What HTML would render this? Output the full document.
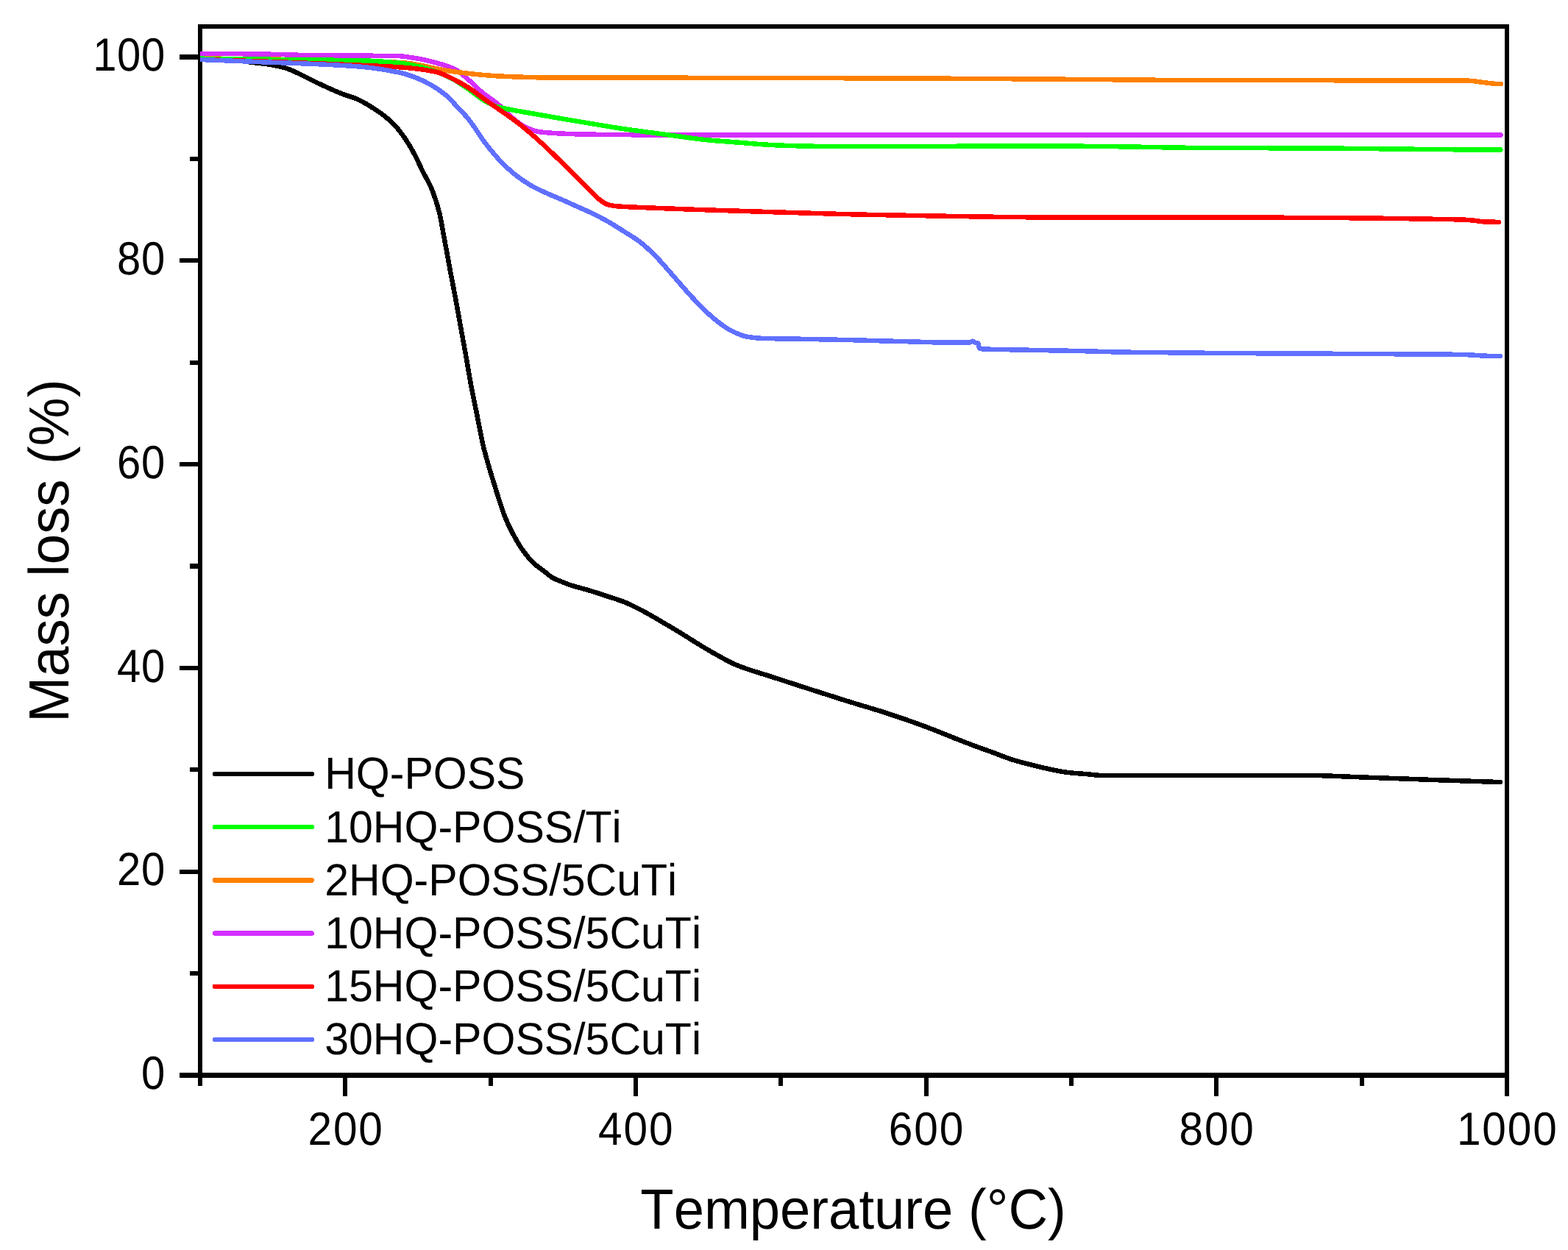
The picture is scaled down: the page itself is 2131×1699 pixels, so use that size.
<!DOCTYPE html>
<html lang="en"><head><meta charset="utf-8"><title>TGA mass loss curves</title>
<style>
html,body{margin:0;padding:0;background:#ffffff;overflow:hidden}
svg{display:block}
svg text{font-family:"Liberation Sans",Arial,Helvetica,sans-serif;fill:#000;font-kerning:none;text-rendering:geometricPrecision}
.tick{font-size:60px}
.title{font-size:75px}
.curve{fill:none;stroke-linejoin:round;stroke-linecap:round}
</style></head>
<body>
<svg xmlns="http://www.w3.org/2000/svg" width="2131" height="1699" viewBox="0 0 2131 1699">
<rect x="0" y="0" width="2131" height="1699" fill="#ffffff"/>
<defs><clipPath id="plotclip"><rect x="272.0" y="36.0" width="1776.0" height="1425.5"/></clipPath></defs>
<g id="axes" stroke="#000" fill="none" shape-rendering="crispEdges">
<rect x="272.0" y="36.0" width="1776.0" height="1425.5" stroke-width="6.3"/>
<path d="M272.0 1461.5 V1475.8 M469.3 1461.5 V1489.5 M666.7 1461.5 V1475.8 M864.0 1461.5 V1489.5 M1061.3 1461.5 V1475.8 M1258.7 1461.5 V1489.5 M1456.0 1461.5 V1475.8 M1653.3 1461.5 V1489.5 M1850.7 1461.5 V1475.8 M2048.0 1461.5 V1489.5 M272.0 1461.5 H244.0 M272.0 1323.1 H257.7 M272.0 1184.7 H244.0 M272.0 1046.3 H257.7 M272.0 907.9 H244.0 M272.0 769.5 H257.7 M272.0 631.1 H244.0 M272.0 492.7 H257.7 M272.0 354.3 H244.0 M272.0 215.9 H257.7 M272.0 77.5 H244.0" stroke-width="6.3"/>
</g>
<g id="curves" clip-path="url(#plotclip)" shape-rendering="crispEdges">
<path class="curve" d="M272.00 78.60 C284.67 78.64 297.33 79.56 310.00 80.50 C320.00 81.24 330.00 83.24 340.00 84.50 C348.33 85.55 356.67 86.21 365.00 87.50 C372.67 88.69 380.33 90.28 388.00 92.50 C395.33 94.63 402.67 98.60 410.00 102.00 C416.33 104.94 422.67 108.45 429.00 111.50 C435.33 114.55 441.67 117.48 448.00 120.30 C454.00 122.97 460.00 125.72 466.00 128.00 C472.33 130.41 478.67 131.82 485.00 134.50 C491.33 137.18 497.67 141.13 504.00 145.00 C510.33 148.87 516.67 152.97 523.00 158.00 C528.00 161.97 533.00 166.53 538.00 172.00 C542.33 176.74 546.67 182.61 551.00 189.00 C555.33 195.39 559.67 202.87 564.00 211.00 C567.67 217.88 571.33 226.71 575.00 234.00 C578.33 240.63 581.67 245.56 585.00 253.00 C587.33 258.21 589.67 264.44 592.00 271.50 C593.77 276.85 595.53 282.72 597.30 290.00 C598.00 292.88 598.70 296.43 599.40 300.00 C600.60 306.11 601.80 313.51 603.00 320.00 C604.27 326.85 605.53 333.15 606.80 340.00 C608.00 346.49 609.20 353.51 610.40 360.00 C611.67 366.85 612.93 373.33 614.20 380.00 C616.10 390.00 618.00 399.73 619.90 410.00 C621.70 419.73 623.50 430.00 625.30 440.00 C626.20 445.00 627.10 450.03 628.00 455.00 C629.60 463.83 631.20 472.35 632.80 481.30 C635.20 494.73 637.60 509.79 640.00 522.60 C642.77 537.37 645.53 550.08 648.30 563.90 C651.03 577.55 653.77 593.29 656.50 605.00 C657.80 610.57 659.10 615.23 660.40 620.00 C662.37 627.22 664.33 633.99 666.30 640.60 C668.43 647.77 670.57 654.42 672.70 661.30 C674.83 668.18 676.97 675.41 679.10 681.90 C681.50 689.20 683.90 696.66 686.30 702.60 C689.50 710.52 692.70 717.03 695.90 723.20 C699.87 730.85 703.83 738.08 707.80 743.90 C713.30 751.97 718.80 759.20 724.30 764.50 C730.50 770.48 736.70 774.04 742.90 779.00 C745.27 780.89 747.63 783.40 750.00 784.80 C754.53 787.48 759.07 788.94 763.60 790.80 C767.40 792.36 771.20 793.93 775.00 795.20 C783.33 797.98 791.67 799.79 800.00 802.30 C808.33 804.81 816.67 807.54 825.00 810.30 C833.33 813.06 841.67 815.54 850.00 818.90 C858.33 822.26 866.67 826.70 875.00 831.10 C883.33 835.50 891.67 840.63 900.00 845.50 C908.33 850.37 916.67 855.22 925.00 860.30 C933.33 865.38 941.67 870.96 950.00 876.00 C958.33 881.04 966.67 886.02 975.00 890.60 C983.33 895.18 991.67 900.13 1000.00 903.60 C1016.67 910.55 1033.33 914.82 1050.00 920.30 C1066.67 925.78 1083.33 931.13 1100.00 936.50 C1116.67 941.87 1133.33 947.30 1150.00 952.50 C1166.67 957.70 1183.33 962.38 1200.00 967.70 C1208.33 970.36 1216.67 973.15 1225.00 976.00 C1233.33 978.85 1241.67 981.75 1250.00 984.80 C1258.33 987.85 1266.67 991.04 1275.00 994.30 C1283.33 997.56 1291.67 1001.12 1300.00 1004.40 C1308.33 1007.68 1316.67 1010.90 1325.00 1014.00 C1333.33 1017.10 1341.67 1019.95 1350.00 1023.00 C1358.33 1026.05 1366.67 1029.66 1375.00 1032.30 C1383.33 1034.94 1391.67 1037.08 1400.00 1039.20 C1408.33 1041.32 1416.67 1043.35 1425.00 1045.10 C1433.33 1046.85 1441.67 1048.86 1450.00 1049.85 C1459.13 1050.94 1468.27 1051.39 1477.40 1052.20 C1483.27 1052.72 1489.13 1053.80 1495.00 1053.80 C1541.00 1053.80 1587.00 1053.80 1633.00 1053.80 C1679.67 1053.80 1726.33 1053.80 1773.00 1053.80 C1798.00 1053.80 1823.00 1055.43 1848.00 1056.30 C1881.33 1057.47 1914.67 1058.82 1948.00 1060.00 C1978.33 1061.08 2008.67 1062.11 2039.00 1063.10" stroke="#000000" stroke-width="6.5"/>
<path class="curve" d="M272.20 72.90 C299.47 72.90 326.73 73.20 354.00 73.50 C382.67 73.82 411.33 75.30 440.00 75.50 C472.67 75.73 505.33 75.59 538.00 75.90 C546.67 75.98 555.33 77.66 564.00 79.00 C574.33 80.60 584.67 83.14 595.00 86.00 C603.00 88.22 611.00 90.43 619.00 94.40 C624.00 96.88 629.00 101.84 634.00 106.00 C641.67 112.38 649.33 120.85 657.00 127.00 C663.00 131.82 669.00 135.09 675.00 140.00 C681.33 145.18 687.67 152.69 694.00 158.00 C700.20 163.20 706.40 168.91 712.60 172.00 C718.87 175.12 725.13 177.98 731.40 179.00 C735.33 179.64 739.27 179.98 743.20 180.30 C750.10 180.87 757.00 181.30 763.90 181.60 C774.23 182.05 784.57 182.43 794.90 182.60 C817.60 182.98 840.30 183.27 863.00 183.30 C908.67 183.37 954.33 183.40 1000.00 183.40 C1346.57 183.40 1693.13 183.40 2039.70 183.40" stroke="#D42FFF" stroke-width="6.5"/>
<path class="curve" d="M272.20 79.50 C305.67 79.73 339.13 80.14 372.60 80.60 C395.07 80.91 417.53 81.38 440.00 81.80 C457.20 82.12 474.40 82.35 491.60 82.80 C504.40 83.14 517.20 83.67 530.00 84.30 C537.87 84.69 545.73 85.06 553.60 85.80 C560.47 86.44 567.33 88.02 574.20 89.30 C581.13 90.59 588.07 92.28 595.00 93.60 C601.83 94.90 608.67 96.20 615.50 97.20 C622.40 98.21 629.30 99.03 636.20 99.80 C644.13 100.69 652.07 101.53 660.00 102.20 C665.00 102.62 670.00 103.03 675.00 103.30 C687.53 103.98 700.07 104.45 712.60 104.80 C725.07 105.15 737.53 105.60 750.00 105.60 C775.00 105.60 800.00 105.60 825.00 105.60 C883.33 105.60 941.67 105.78 1000.00 105.90 C1093.87 106.10 1187.73 106.32 1281.60 106.70 C1364.73 107.04 1447.87 107.75 1531.00 108.40 C1554.00 108.58 1577.00 108.94 1600.00 109.00 C1730.00 109.35 1860.00 109.04 1990.00 109.50 C1993.33 109.51 1996.67 109.69 2000.00 109.90 C2001.67 110.01 2003.33 110.28 2005.00 110.50 C2007.33 110.80 2009.67 111.19 2012.00 111.50 C2014.67 111.86 2017.33 112.16 2020.00 112.50 C2022.33 112.80 2024.67 113.17 2027.00 113.40 C2029.00 113.60 2031.00 113.85 2033.00 113.90 C2035.23 113.96 2037.47 114.00 2039.70 114.00" stroke="#FF8000" stroke-width="6.5"/>
<path class="curve" d="M272.20 79.70 C299.47 79.99 326.73 80.29 354.00 80.60 C382.67 80.92 411.33 81.24 440.00 81.60 C457.20 81.82 474.40 81.91 491.60 82.30 C508.73 82.69 525.87 83.96 543.00 85.70 C550.00 86.41 557.00 87.82 564.00 89.30 C574.33 91.49 584.67 94.60 595.00 98.30 C601.83 100.74 608.67 103.88 615.50 107.50 C622.83 111.39 630.17 116.79 637.50 121.80 C645.00 126.92 652.50 133.89 660.00 138.00 C665.00 140.74 670.00 143.27 675.00 144.80 C681.33 146.74 687.67 147.84 694.00 149.10 C703.53 151.00 713.07 152.42 722.60 154.10 C736.37 156.52 750.13 159.04 763.90 161.40 C777.67 163.76 791.43 166.03 805.20 168.30 C818.97 170.57 832.73 172.96 846.50 175.00 C858.20 176.73 869.90 178.22 881.60 179.80 C894.07 181.49 906.53 183.14 919.00 184.80 C931.53 186.47 944.07 188.51 956.60 189.80 C971.07 191.29 985.53 192.29 1000.00 193.40 C1018.67 194.84 1037.33 196.71 1056.00 197.40 C1074.87 198.09 1093.73 198.80 1112.60 198.80 C1168.93 198.80 1225.27 198.80 1281.60 198.80 C1328.40 198.80 1375.20 198.40 1422.00 198.40 C1458.33 198.40 1494.67 198.97 1531.00 199.40 C1559.17 199.74 1587.33 200.60 1615.50 200.80 C1681.20 201.27 1746.90 201.22 1812.60 201.60 C1874.27 201.95 1935.93 203.19 1997.60 203.40 C2011.50 203.45 2025.40 203.49 2039.30 203.50" stroke="#00FF00" stroke-width="6.5"/>
<path class="curve" d="M272.00 81.00 C299.33 81.69 326.67 82.51 354.00 83.40 C382.67 84.34 411.33 85.45 440.00 86.60 C457.20 87.29 474.40 88.02 491.60 88.80 C508.80 89.58 526.00 90.16 543.20 91.30 C550.13 91.76 557.07 92.40 564.00 93.20 C574.33 94.40 584.67 95.82 595.00 98.40 C601.83 100.10 608.67 103.97 615.50 107.30 C622.40 110.66 629.30 114.48 636.20 118.80 C644.13 123.77 652.07 130.36 660.00 136.00 C665.00 139.55 670.00 143.00 675.00 146.50 C681.33 150.93 687.67 155.29 694.00 159.80 C696.63 161.68 699.27 163.50 701.90 165.50 C708.80 170.75 715.70 176.56 722.60 182.50 C729.47 188.41 736.33 194.67 743.20 201.10 C750.10 207.56 757.00 214.43 763.90 221.20 C770.77 227.93 777.63 234.82 784.50 241.60 C791.40 248.42 798.30 255.33 805.20 262.00 C808.63 265.32 812.07 269.08 815.50 271.80 C817.67 273.52 819.83 275.23 822.00 276.30 C824.00 277.28 826.00 278.10 828.00 278.60 C830.73 279.29 833.47 279.85 836.20 280.10 C851.33 281.48 866.47 281.73 881.60 282.40 C900.40 283.23 919.20 283.94 938.00 284.60 C958.67 285.33 979.33 285.95 1000.00 286.60 C1046.93 288.08 1093.87 289.77 1140.80 290.90 C1187.73 292.03 1234.67 292.99 1281.60 293.70 C1328.50 294.40 1375.40 295.40 1422.30 295.40 C1481.53 295.40 1540.77 295.40 1600.00 295.40 C1673.33 295.40 1746.67 295.70 1820.00 296.10 C1858.83 296.31 1897.67 296.98 1936.50 297.60 C1953.77 297.87 1971.03 298.01 1988.30 298.60 C1992.87 298.76 1997.43 299.17 2002.00 299.60 C2006.07 299.98 2010.13 300.92 2014.20 301.20 C2017.80 301.44 2021.40 301.65 2025.00 301.70 C2028.90 301.76 2032.80 301.80 2036.70 301.80" stroke="#FF0000" stroke-width="6.5"/>
<path class="curve" d="M272.20 81.00 C299.47 82.06 326.73 83.13 354.00 84.20 C382.67 85.33 411.33 86.19 440.00 87.60 C457.20 88.45 474.40 89.28 491.60 90.80 C508.80 92.32 526.00 95.01 543.20 98.70 C550.13 100.19 557.07 102.52 564.00 105.10 C570.83 107.64 577.67 110.92 584.50 114.70 C591.40 118.52 598.30 123.05 605.20 128.70 C610.37 132.93 615.53 138.97 620.70 144.40 C625.87 149.83 631.03 154.99 636.20 161.30 C644.33 171.23 652.47 185.48 660.60 195.90 C667.50 204.74 674.40 213.16 681.30 220.20 C688.17 227.21 695.03 233.51 701.90 238.80 C708.80 244.11 715.70 248.81 722.60 252.70 C729.47 256.57 736.33 259.59 743.20 262.70 C750.10 265.83 757.00 268.48 763.90 271.50 C770.77 274.51 777.63 277.71 784.50 280.80 C791.40 283.91 798.30 286.76 805.20 290.10 C812.07 293.42 818.93 297.02 825.80 300.90 C832.70 304.80 839.60 309.23 846.50 313.60 C854.53 318.69 862.57 323.22 870.60 329.40 C877.50 334.71 884.40 341.54 891.30 348.50 C898.17 355.42 905.03 363.64 911.90 371.40 C918.80 379.20 925.70 387.56 932.60 395.20 C939.47 402.80 946.33 410.46 953.20 417.20 C960.10 423.97 967.00 430.66 973.90 436.00 C980.77 441.32 987.63 446.58 994.50 449.90 C1001.40 453.24 1008.30 456.55 1015.20 457.70 C1022.07 458.84 1028.93 459.68 1035.80 459.90 C1052.17 460.41 1068.53 460.41 1084.90 460.70 C1106.60 461.09 1128.30 461.49 1150.00 462.00 C1166.67 462.39 1183.33 462.96 1200.00 463.40 C1213.33 463.75 1226.67 464.06 1240.00 464.40 C1253.77 464.76 1267.53 465.50 1281.30 465.50 C1293.70 465.50 1306.10 465.50 1318.50 465.50 C1319.50 465.50 1320.50 463.60 1321.50 463.60 C1322.67 463.60 1323.83 465.08 1325.00 465.50 C1326.50 466.04 1328.00 465.81 1329.50 466.70 C1330.00 467.00 1330.50 473.16 1331.00 473.50 C1331.67 473.95 1332.33 474.16 1333.00 474.20 C1346.73 475.12 1360.47 474.99 1374.20 475.30 C1402.80 475.94 1431.40 476.28 1460.00 476.90 C1483.67 477.41 1507.33 478.37 1531.00 478.70 C1596.67 479.62 1662.33 479.95 1728.00 480.40 C1812.50 480.97 1897.00 480.75 1981.50 481.80 C1988.10 481.88 1994.70 482.26 2001.30 482.60 C2005.87 482.83 2010.43 483.28 2015.00 483.50 C2019.33 483.71 2023.67 483.94 2028.00 484.00 C2031.63 484.05 2035.27 484.10 2038.90 484.10" stroke="#6070FF" stroke-width="6.5"/>
</g>
<g id="ylabels">
<text class="tick" text-anchor="end" transform="translate(225.00 1480.10) scale(0.967 1.056)" style="letter-spacing:0.7px">0</text>
<text class="tick" text-anchor="end" transform="translate(225.00 1203.30) scale(0.967 1.056)" style="letter-spacing:0.7px">20</text>
<text class="tick" text-anchor="end" transform="translate(225.00 926.50) scale(0.967 1.056)" style="letter-spacing:0.7px">40</text>
<text class="tick" text-anchor="end" transform="translate(225.00 649.70) scale(0.967 1.056)" style="letter-spacing:0.7px">60</text>
<text class="tick" text-anchor="end" transform="translate(225.00 372.90) scale(0.967 1.056)" style="letter-spacing:0.7px">80</text>
<text class="tick" text-anchor="end" transform="translate(225.00 96.10) scale(0.967 1.056)" style="letter-spacing:0.7px">100</text>
</g>
<g id="xlabels">
<text class="tick" text-anchor="middle" transform="translate(470.13 1556.30) scale(0.977 1.056)" style="letter-spacing:1.9px">200</text>
<text class="tick" text-anchor="middle" transform="translate(864.80 1556.30) scale(0.977 1.056)" style="letter-spacing:1.9px">400</text>
<text class="tick" text-anchor="middle" transform="translate(1259.47 1556.30) scale(0.977 1.056)" style="letter-spacing:1.9px">600</text>
<text class="tick" text-anchor="middle" transform="translate(1654.13 1556.30) scale(0.977 1.056)" style="letter-spacing:1.9px">800</text>
<text class="tick" text-anchor="middle" transform="translate(2048.80 1556.30) scale(0.977 1.056)" style="letter-spacing:1.9px">1000</text>
</g>
<text class="title" text-anchor="middle" transform="translate(1159.50 1670.00) scale(0.99 1.025)">Temperature (°C)</text>
<text class="title" text-anchor="middle" transform="translate(93.10 748.60) rotate(-90) scale(0.99 1.025)">Mass loss (%)</text>
<g id="legend">
<line x1="292.0" y1="1052.0" x2="423.8" y2="1052.0" stroke="#000000" stroke-width="6.5" stroke-linecap="round" shape-rendering="crispEdges"/><text class="tick" text-anchor="start" transform="translate(441.20 1072.30) scale(0.984 1.02)">HQ-POSS</text>
<line x1="292.0" y1="1124.2" x2="423.8" y2="1124.2" stroke="#00FF00" stroke-width="6.5" stroke-linecap="round" shape-rendering="crispEdges"/><text class="tick" text-anchor="start" transform="translate(441.20 1144.50) scale(0.984 1.02)">10HQ-POSS/Ti</text>
<line x1="292.0" y1="1196.4" x2="423.8" y2="1196.4" stroke="#FF8000" stroke-width="6.5" stroke-linecap="round" shape-rendering="crispEdges"/><text class="tick" text-anchor="start" transform="translate(441.20 1216.70) scale(0.984 1.02)">2HQ-POSS/5CuTi</text>
<line x1="292.0" y1="1268.6" x2="423.8" y2="1268.6" stroke="#D42FFF" stroke-width="6.5" stroke-linecap="round" shape-rendering="crispEdges"/><text class="tick" text-anchor="start" transform="translate(441.20 1288.90) scale(0.984 1.02)">10HQ-POSS/5CuTi</text>
<line x1="292.0" y1="1340.8" x2="423.8" y2="1340.8" stroke="#FF0000" stroke-width="6.5" stroke-linecap="round" shape-rendering="crispEdges"/><text class="tick" text-anchor="start" transform="translate(441.20 1361.10) scale(0.984 1.02)">15HQ-POSS/5CuTi</text>
<line x1="292.0" y1="1413.0" x2="423.8" y2="1413.0" stroke="#6070FF" stroke-width="6.5" stroke-linecap="round" shape-rendering="crispEdges"/><text class="tick" text-anchor="start" transform="translate(441.20 1433.30) scale(0.984 1.02)">30HQ-POSS/5CuTi</text>
</g>
</svg>
</body></html>
